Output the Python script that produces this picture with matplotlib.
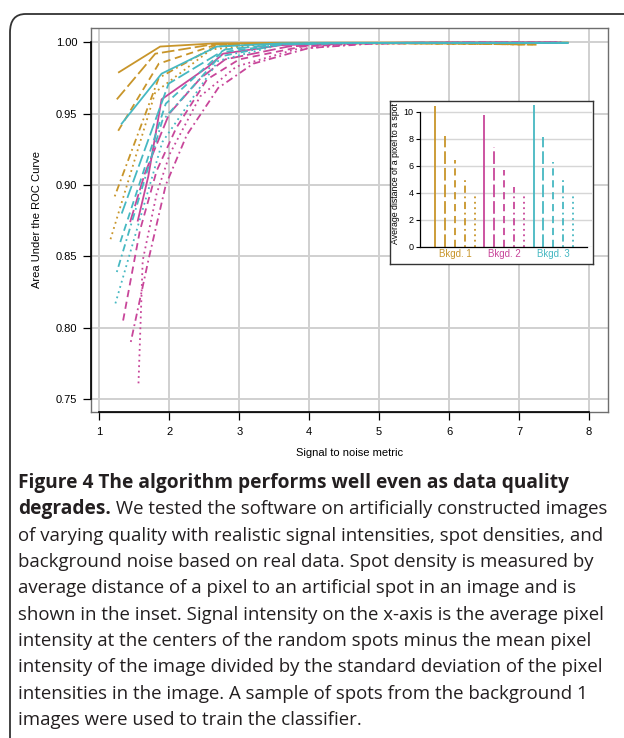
import matplotlib
matplotlib.use("Agg")
import matplotlib.pyplot as plt
from matplotlib.patches import FancyBboxPatch

# ---------------- data ----------------
styles = ["solid", "longdash", "dashed", "dotdash", "dotted"]

gold_x = [
    [1.28, 1.87, 2.68, 3.55, 4.45, 5.35, 6.30, 7.70],
    [1.25, 1.80, 2.62, 3.50, 4.40, 5.30, 6.25, 7.25],
    [1.27, 1.85, 2.65, 3.50, 4.40, 5.30, 6.20, 7.20],
    [1.22, 1.85, 2.65, 3.50, 4.40, 5.30, 6.20, 7.20],
    [1.16, 1.80, 2.60, 3.45, 4.35, 5.25, 6.15, 7.10],
]
gold_y = [
    [0.979, 0.997, 0.9993, 0.9996, 0.9997, 0.9998, 0.9998, 0.9998],
    [0.960, 0.992, 0.9985, 0.9992, 0.9993, 0.9992, 0.9990, 0.9983],
    [0.938, 0.985, 0.9980, 0.9990, 0.9993, 0.9993, 0.9990, 0.9985],
    [0.892, 0.975, 0.9970, 0.9990, 0.9993, 0.9993, 0.9990, 0.9985],
    [0.862, 0.965, 0.9950, 0.9990, 0.9993, 0.9993, 0.9990, 0.9985],
]
pink_x = [
    [1.55, 1.70, 1.89, 2.56, 2.77, 3.60, 4.50, 5.50, 6.50, 7.60],
    [1.44, 1.65, 2.00, 2.45, 2.80, 3.70, 4.60, 5.60, 6.60, 7.60],
    [1.34, 1.58, 1.82, 2.10, 2.54, 3.00, 3.90, 4.80, 6.00, 7.60],
    [1.45, 1.70, 1.95, 2.25, 2.70, 3.20, 4.00, 4.90, 6.00, 7.60],
    [1.56, 1.62, 1.82, 2.01, 2.44, 2.96, 3.80, 4.70, 6.00, 7.60],
]
pink_y = [
    [0.875, 0.906, 0.960, 0.983, 0.992, 0.998, 0.9993, 0.9997, 0.9998, 0.9998],
    [0.874, 0.908, 0.950, 0.975, 0.988, 0.997, 0.9993, 0.9997, 0.9998, 0.9998],
    [0.805, 0.868, 0.910, 0.940, 0.974, 0.988, 0.997, 0.9993, 0.9997, 0.9998],
    [0.790, 0.847, 0.900, 0.935, 0.968, 0.985, 0.996, 0.9990, 0.9997, 0.9998],
    [0.761, 0.847, 0.894, 0.922, 0.962, 0.983, 0.995, 0.9990, 0.9997, 0.9998],
]
cyan_x = [
    [1.32, 1.89, 2.68, 3.60, 4.55, 5.50, 6.60, 7.70],
    [1.32, 1.99, 2.80, 3.70, 4.60, 5.60, 6.60, 7.70],
    [1.30, 1.95, 2.75, 3.65, 4.60, 5.60, 6.60, 7.70],
    [1.25, 1.90, 2.72, 3.60, 4.55, 5.55, 6.60, 7.70],
    [1.23, 1.90, 2.70, 3.60, 4.55, 5.55, 6.60, 7.70],
]
cyan_y = [
    [0.943, 0.978, 0.997, 0.9992, 0.9995, 0.9996, 0.9996, 0.9996],
    [0.880, 0.971, 0.995, 0.9990, 0.9995, 0.9996, 0.9996, 0.9996],
    [0.860, 0.957, 0.993, 0.9988, 0.9994, 0.9996, 0.9996, 0.9996],
    [0.839, 0.945, 0.990, 0.9985, 0.9994, 0.9996, 0.9996, 0.9996],
    [0.817, 0.930, 0.987, 0.9985, 0.9994, 0.9996, 0.9996, 0.9996],
]

# inset: average distance of a pixel to a spot
bkgd_labels = ["Bkgd. 1", "Bkgd. 2", "Bkgd. 3"]
gold_dist = [10.45, 8.2, 6.4, 5.05, 3.8]
pink_dist = [9.75, 7.35, 5.7, 4.4, 3.75]
cyan_dist = [10.5, 8.1, 6.3, 5.0, 3.8]

x_ticks = [1, 2, 3, 4, 5, 6, 7, 8]
y_ticks = [0.75, 0.80, 0.85, 0.90, 0.95, 1.00]
inset_ticks = [0, 2, 4, 6, 8, 10]

caption_lines = [
    ("Figure 4 The algorithm performs well even as data quality", ""),
    ("degrades.", " We tested the software on artificially constructed images"),
    ("", "of varying quality with realistic signal intensities, spot densities, and"),
    ("", "background noise based on real data. Spot density is measured by"),
    ("", "average distance of a pixel to an artificial spot in an image and is"),
    ("", "shown in the inset. Signal intensity on the x-axis is the average pixel"),
    ("", "intensity at the centers of the random spots minus the mean pixel"),
    ("", "intensity of the image divided by the standard deviation of the pixel"),
    ("", "intensities in the image. A sample of spots from the background 1"),
    ("", "images were used to train the classifier."),
]

# ---------------- style ----------------
GOLD = "#C8952A"
PINK = "#C8469A"
CYAN = "#46B8C2"
dash = {
    "solid": "solid",
    "longdash": (0, (7, 2.2)),
    "dashed": (0, (4, 2.6)),
    "dotdash": (0, (1, 2, 4, 2)),
    "dotted": (0, (1, 2)),
}

W, H = 624, 738
fig = plt.figure(figsize=(W / 100, H / 100), dpi=100)
plt.rcParams['font.family'] = ['Liberation Sans', 'DejaVu Sans']

def fx(px):
    return px / W

def fy(py):
    return 1 - py / H

# outer rounded border
border = FancyBboxPatch((fx(10), fy(760)), fx(700), fy(14) - fy(760),
                        boxstyle="round,pad=0,rounding_size=0.025",
                        transform=fig.transFigure, fill=False,
                        edgecolor="#333333", linewidth=1.3, clip_on=False)
fig.patches.append(border)

# main axes
L, R, T, B = 91, 608, 28, 412
ax = fig.add_axes([fx(L), fy(B), fx(R - L), fy(T) - fy(B)])
ax.set_xlim(0.881, 8.272)
ax.set_ylim(0.7409, 1.0100)
for v in x_ticks:
    ax.axvline(v, color="#d0d0d0", lw=1.4, zorder=0)
for v in y_ticks:
    ax.axhline(v, color="#d0d0d0", lw=1.4, zorder=0)

for xs, ys, col in [(gold_x, gold_y, GOLD), (pink_x, pink_y, PINK), (cyan_x, cyan_y, CYAN)]:
    for i, st in enumerate(styles):
        ax.plot(xs[i], ys[i], color=col, lw=1.3, linestyle=dash[st], zorder=2)

for s in ax.spines.values():
    s.set_color("#6e6e6e")
    s.set_linewidth(1.0)
ax.set_xticks(x_ticks)
ax.set_yticks(y_ticks)
ax.set_xticklabels([str(v) for v in x_ticks])
ax.set_yticklabels(["%.2f" % v for v in y_ticks])
ax.tick_params(direction="out", length=6, width=0.9, color="black",
               labelsize=8, pad=4)
ax.tick_params(axis="x", pad=5)
# R-style axis lines
ax.plot([x_ticks[0], x_ticks[-1]], [0.7409, 0.7409], color="black", lw=1.2,
        clip_on=False, zorder=5)
ax.plot([0.881, 0.881], [y_ticks[0], y_ticks[-1]], color="black", lw=1.2,
        clip_on=False, zorder=5)
ax.set_xlabel("Signal to noise metric", fontsize=8, labelpad=8)
ax.set_ylabel("Area Under the ROC Curve", fontsize=8, labelpad=10)

# inset frame
IL, IR, IT, IB = 390, 593, 101, 264
axf = fig.add_axes([fx(IL), fy(IB), fx(IR - IL), fy(IT) - fy(IB)], zorder=3)
axf.set_xticks([])
axf.set_yticks([])
axf.set_facecolor("white")
for s in axf.spines.values():
    s.set_color("#333333")
    s.set_linewidth(1.0)

# inset data axes
DL, DR, DT, DB = 420, 592.5, 101, 246.7
axi = fig.add_axes([fx(DL), fy(DB), fx(DR - DL), fy(DT) - fy(DB)], zorder=4)
axi.patch.set_alpha(0)
axi.set_xlim(-0.56, 17.0)
axi.set_ylim(0, 10.79)
for v in inset_ticks:
    axi.axhline(v, color="#d6d6d6", lw=1.0, zorder=0)
pos = 1
centers = []
for dists, col in [(gold_dist, GOLD), (pink_dist, PINK), (cyan_dist, CYAN)]:
    centers.append(pos + 2)
    for i, st in enumerate(styles):
        axi.vlines(pos, 0, dists[i], color=col, lw=1.3, linestyle=dash[st])
        pos += 1
for sname in ["top", "right"]:
    axi.spines[sname].set_visible(False)
axi.spines["left"].set_bounds(0, 10)
axi.spines["bottom"].set_bounds(-0.56, 16.4)
axi.spines["left"].set_linewidth(0.9)
axi.spines["bottom"].set_linewidth(0.9)
axi.set_yticks(inset_ticks)
axi.set_yticklabels([str(v) for v in inset_ticks])
axi.set_xticks([])
axi.tick_params(axis="y", direction="out", length=3, width=0.8, labelsize=6.5, pad=1.5)
for c, lab, col in zip(centers, bkgd_labels, [GOLD, PINK, CYAN]):
    axi.text(c, -0.55, lab, color=col, fontsize=7, ha="center", va="center",
             clip_on=False)
axi.set_ylabel("Average distance of a pixel to a spot", fontsize=6.3, labelpad=3)

# caption
fig.canvas.draw()
renderer = fig.canvas.get_renderer()
cap_x = 18
line0 = 483
step = 26.35
bold_fp = dict(family=["Open Sans", "DejaVu Sans"], weight="bold", fontsize=13.75)
reg_fp = dict(family=["Open Sans", "DejaVu Sans"], weight="normal", fontsize=13.4)
for k, (b, r) in enumerate(caption_lines):
    yy = fy(line0 + k * step)
    xx = fx(cap_x)
    if b:
        t = fig.text(xx, yy, b, va="center", ha="left", color="#231f20", **bold_fp)
        bb = t.get_window_extent(renderer)
        xx = bb.x1 / W
    if r:
        fig.text(xx, yy, r, va="center", ha="left", color="#231f20", **reg_fp)

fig.savefig("out.png", dpi=100)
